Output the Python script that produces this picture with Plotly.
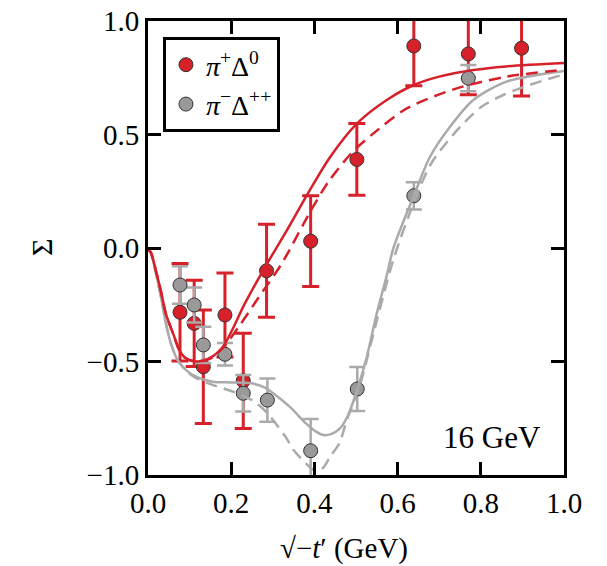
import plotly.graph_objects as go

# ---- measured beam asymmetry, pi+ Delta0 ----
pip_x = [0.077, 0.111, 0.133, 0.185, 0.229, 0.285, 0.391, 0.502, 0.639, 0.770, 0.898]
pip_y = [-0.283, -0.332, -0.523, -0.295, -0.585, -0.100, 0.030, 0.390, 0.890, 0.855, 0.880]
pip_err = [0.215, 0.19, 0.25, 0.185, 0.21, 0.205, 0.20, 0.158, 0.175, 0.18, 0.21]

# ---- measured beam asymmetry, pi- Delta++ ----
pim_x = [0.077, 0.111, 0.133, 0.185, 0.229, 0.287, 0.391, 0.503, 0.639, 0.770]
pim_y = [-0.163, -0.251, -0.427, -0.468, -0.640, -0.670, -0.893, -0.621, 0.230, 0.748]
pim_err = [0.083, 0.077, 0.08, 0.05, 0.08, 0.095, 0.14, 0.097, 0.06, 0.058]

# ---- model curves ----
pip_full_x = [0.0, 0.007, 0.019, 0.031, 0.043, 0.063, 0.075, 0.091, 0.115, 0.147, 0.18,
              0.233, 0.281, 0.333, 0.389, 0.4375, 0.502, 0.574, 0.639, 0.70, 0.782, 0.86, 1.0]
pip_full_y = [-0.005, -0.02, -0.10, -0.19, -0.29, -0.39, -0.449, -0.486, -0.50, -0.486, -0.435,
              -0.244, -0.085, 0.075, 0.255, 0.40, 0.548, 0.652, 0.718, 0.755, 0.784, 0.80, 0.815]

pip_alt_x = [0.0, 0.007, 0.019, 0.031, 0.043, 0.063, 0.075, 0.091, 0.115, 0.147, 0.18,
             0.217, 0.265, 0.321, 0.39, 0.433, 0.49, 0.542, 0.622, 0.742, 0.862, 1.0]
pip_alt_y = [-0.005, -0.02, -0.10, -0.19, -0.29, -0.39, -0.449, -0.486, -0.50, -0.49, -0.44,
             -0.35, -0.22, -0.07, 0.16, 0.29, 0.42, 0.505, 0.615, 0.703, 0.755, 0.785]

pim_full_x = [0.0, 0.007, 0.019, 0.031, 0.043, 0.055, 0.071, 0.091, 0.115, 0.155, 0.20, 0.245,
              0.281, 0.301, 0.341, 0.381, 0.405, 0.421, 0.44, 0.4615, 0.48, 0.502, 0.526, 0.55,
              0.574, 0.59, 0.639, 0.678, 0.726, 0.782, 0.862, 1.0]
pim_full_y = [-0.005, -0.023, -0.11, -0.214, -0.332, -0.42, -0.493, -0.537, -0.567, -0.589, -0.592, -0.595,
              -0.615, -0.64, -0.70, -0.775, -0.81, -0.824, -0.82, -0.795, -0.74, -0.63, -0.479, -0.288,
              -0.12, 0.0, 0.23, 0.402, 0.534, 0.652, 0.733, 0.78]

pim_alt_x = [0.0, 0.007, 0.019, 0.031, 0.043, 0.055, 0.071, 0.091, 0.115, 0.15, 0.20, 0.25,
             0.283, 0.33, 0.35, 0.38, 0.40, 0.42, 0.4375, 0.46, 0.478, 0.49, 0.51, 0.55, 0.59,
             0.639, 0.68, 0.734, 0.80, 0.854, 0.894, 0.942, 1.0]
pim_alt_y = [-0.005, -0.023, -0.11, -0.214, -0.332, -0.42, -0.493, -0.54, -0.572, -0.60, -0.63, -0.67,
             -0.72, -0.83, -0.89, -0.95, -0.98, -0.97, -0.92, -0.86, -0.758, -0.70, -0.60, -0.32, -0.05,
             0.20, 0.37, 0.50, 0.62, 0.674, 0.703, 0.733, 0.765]

x_ticks = [0.0, 0.2, 0.4, 0.6, 0.8, 1.0]
x_tick_text = ["0.0", "0.2", "0.4", "0.6", "0.8", "1.0"]
y_ticks = [-1.0, -0.5, 0.0, 0.5, 1.0]
y_tick_text = ["\u22121.0", "\u22120.5", "0.0", "0.5", "1.0"]

RED = "#d6202a"
GRAY = "#999999"
GRAY_BAR = "#aaaaaa"
EDGE = "#333333"
FONT = "Liberation Serif"

fig = go.Figure()

fig.add_trace(go.Scatter(
    x=pip_x, y=pip_y, mode="markers", name="<i>π</i><sup>+</sup>Δ<sup>0</sup>",
    marker=dict(size=14, color=RED, line=dict(color=EDGE, width=1)),
    error_y=dict(type="data", array=pip_err, color=RED, thickness=3, width=8.5),
    showlegend=True))

fig.add_trace(go.Scatter(
    x=pim_x, y=pim_y, mode="markers", name="<i>π</i><sup>\u2212</sup>Δ<sup>++</sup>",
    marker=dict(size=14, color=GRAY, line=dict(color=EDGE, width=1)),
    error_y=dict(type="data", array=pim_err, color=GRAY_BAR, thickness=2.5, width=8),
    showlegend=True))

curve_style = dict(mode="lines", line_shape="spline", showlegend=False, hoverinfo="skip")
fig.add_trace(go.Scatter(x=pim_alt_x, y=pim_alt_y,
                         line=dict(color=GRAY_BAR, width=2.5, dash="12px,7px", smoothing=0.8),
                         **curve_style))
fig.add_trace(go.Scatter(x=pim_full_x, y=pim_full_y,
                         line=dict(color=GRAY_BAR, width=2.5, smoothing=0.8), **curve_style))
fig.add_trace(go.Scatter(x=pip_alt_x, y=pip_alt_y,
                         line=dict(color=RED, width=2.5, dash="12px,7px", smoothing=0.8),
                         **curve_style))
fig.add_trace(go.Scatter(x=pip_full_x, y=pip_full_y,
                         line=dict(color=RED, width=2.5, smoothing=0.8), **curve_style))

annotations = [
    dict(xref="x", yref="y", x=0.95, y=-0.835, xanchor="right", yanchor="middle",
         text="16 GeV", showarrow=False, font=dict(family=FONT, size=31, color="black")),
    # axis labels
    dict(xref="paper", yref="paper", x=0.471, y=-0.161, xanchor="center", yanchor="middle",
         text="\u221a\u2212<i>t</i>\u2032 (GeV)", showarrow=False,
         font=dict(family=FONT, size=29, color="black")),
    dict(xref="paper", yref="paper", x=-0.257, y=0.5, xanchor="center", yanchor="middle",
         text="Σ", textangle=-90, showarrow=False,
         font=dict(family=FONT, size=30, color="black")),
]

fig.update_layout(
    width=607, height=566,
    margin=dict(l=148, r=43, t=21, b=91),
    paper_bgcolor="white", plot_bgcolor="white",
    font=dict(family=FONT, size=29, color="black"),
    annotations=annotations,
    legend=dict(x=0.036, y=0.9648, xanchor="left", yanchor="top",
                bgcolor="white", bordercolor="black", borderwidth=3,
                font=dict(family=FONT, size=28, color="black"),
                itemwidth=30, tracegroupgap=0),
    xaxis=dict(range=[0, 1], tickvals=x_ticks, ticktext=x_tick_text, automargin=False,
               showline=True, mirror="ticks", linecolor="black", linewidth=3,
               ticks="inside", ticklen=13, tickwidth=3, tickcolor="black",
               showgrid=False, zeroline=False,
               tickfont=dict(family=FONT, size=29)),
    yaxis=dict(range=[-1, 1], tickvals=y_ticks, ticktext=y_tick_text, automargin=False,
               showline=True, mirror="ticks", linecolor="black", linewidth=3,
               ticks="inside", ticklen=13, tickwidth=3, tickcolor="black",
               showgrid=False, zeroline=False,
               tickfont=dict(family=FONT, size=29)),
)

fig.write_html("out.html")
